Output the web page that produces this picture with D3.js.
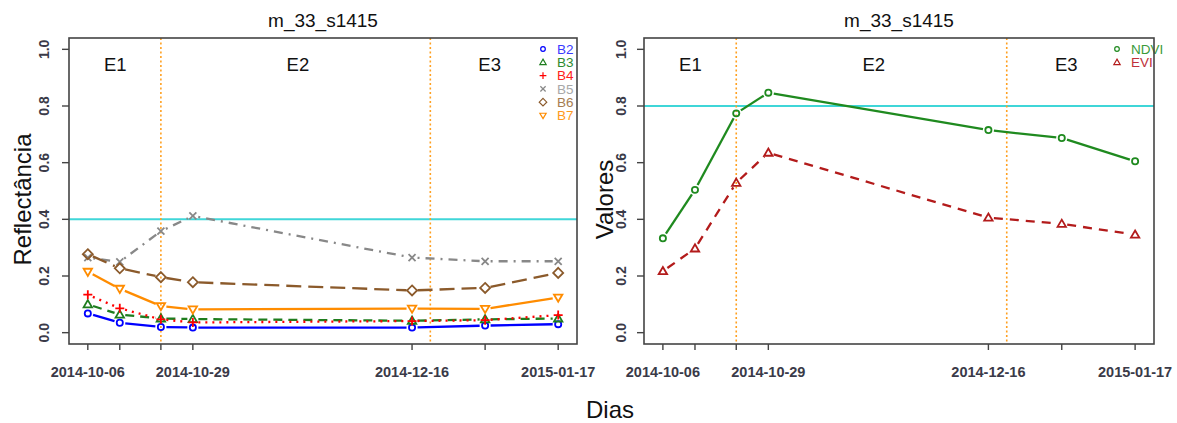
<!DOCTYPE html>
<html><head><meta charset="utf-8">
<script src="https://cdn.jsdelivr.net/npm/d3@7"></script>
<style>body{margin:0;background:#fff}svg{display:block;font-family:"Liberation Sans",Arial,sans-serif}</style>
</head><body><svg id="c" width="1177" height="423"></svg>
<script>
const dates = ["2014-10-06","2014-10-13","2014-10-22","2014-10-29","2014-12-16","2015-01-01","2015-01-17"];
const tickLabelDates = ["2014-10-06","2014-10-29","2014-12-16","2015-01-17"];
const yTicks = [0, 0.2, 0.4, 0.6, 0.8, 1.0];
const b2 = [0.068,0.035,0.020,0.018,0.018,0.025,0.030];
const b3 = [0.100,0.064,0.050,0.048,0.042,0.047,0.050];
const b4 = [0.134,0.086,0.047,0.036,0.041,0.044,0.062];
const b5 = [0.265,0.250,0.358,0.412,0.265,0.252,0.252];
const b6 = [0.277,0.227,0.196,0.178,0.149,0.158,0.211];
const b7 = [0.215,0.155,0.094,0.082,0.085,0.084,0.124];
const ndvi = [0.333,0.504,0.774,0.847,0.715,0.687,0.605];
const evi = [0.217,0.297,0.529,0.635,0.406,0.384,0.346];
const phaseLineDates = ["2014-10-22","2014-12-20"];
const phaseLabels = ["E1","E2","E3"];
const phaseLabelDates = ["2014-10-12","2014-11-21","2015-01-02"];
const title = "m_33_s1415";

const parse = d3.utcParse("%Y-%m-%d");
const svg = d3.select("#c");
svg.append("rect").attr("width",1177).attr("height",423).attr("fill","#fff");

function markerPath(shape){
  switch(shape){
    case "circle": return d3.symbol(d3.symbolCircle, 30)();
    case "triangle": return "M0,-4.2L4.2,3L-4.2,3Z";
    case "tridown": return "M0,4.2L4.2,-3L-4.2,-3Z";
    case "plus": return "M-4.5,0L4.5,0M0,-4.5L0,4.5";
    case "cross": return "M-3.5,-3.5L3.5,3.5M-3.5,3.5L3.5,-3.5";
    case "diamond": return "M0,-5L5,0L0,5L-5,0Z";
  }
}

function panel(opt){
  const {left,right,top,bottom,series,refLine,yLabel,legendX,yLabelX,tickLabelX} = opt;
  const d0 = parse(dates[0]), d1 = parse(dates[dates.length-1]);
  const span = d1 - d0;
  const x = d3.scaleUtc().domain([new Date(+d0 - 0.04*span), new Date(+d1 + 0.04*span)]).range([left,right]);
  const y = d3.scaleLinear().domain([-0.04,1.04]).range([bottom,top]);
  const g = svg.append("g");

  g.append("line").attr("x1",left).attr("x2",right).attr("y1",y(refLine)).attr("y2",y(refLine))
    .attr("stroke","#3fd6d8").attr("stroke-width",2);
  phaseLineDates.forEach(d=>{
    g.append("line").attr("x1",x(parse(d))).attr("x2",x(parse(d))).attr("y1",top).attr("y2",bottom)
      .attr("stroke","#ffa020").attr("stroke-width",1.6).attr("stroke-dasharray","2,2.5");
  });
  phaseLabels.forEach((t,i)=>{
    g.append("text").attr("x",x(parse(phaseLabelDates[i]))).attr("y",y(0.945)).attr("dy","0.35em")
      .attr("text-anchor","middle").attr("font-size",18.5).attr("fill","#111").text(t);
  });

  series.forEach(s=>{
    const pts = dates.map((d,i)=>[x(parse(d)), y(s.values[i])]);
    for(let i=0;i<pts.length-1;i++){
      const [xa,ya]=pts[i],[xb,yb]=pts[i+1];
      const L=Math.hypot(xb-xa,yb-ya), gap=5.5;
      if(L<=2*gap) continue;
      const ux=(xb-xa)/L, uy=(yb-ya)/L;
      g.append("line").attr("x1",xa+ux*gap).attr("y1",ya+uy*gap).attr("x2",xb-ux*gap).attr("y2",yb-uy*gap)
        .attr("stroke",s.color).attr("stroke-width",2.3).attr("stroke-dasharray",s.dash||null);
    }
    pts.forEach(p=>{
      g.append("path").attr("d",markerPath(s.shape)).attr("transform",`translate(${p[0]},${p[1]})`)
        .attr("fill","none").attr("stroke",s.color).attr("stroke-width",1.8);
    });
  });

  series.forEach((s,i)=>{
    const ly = top + 11 + i*13.3;
    g.append("path").attr("d",markerPath(s.shape)).attr("transform",`translate(${legendX},${ly}) scale(0.75)`)
      .attr("fill","none").attr("stroke",s.color).attr("stroke-width",1.6);
    g.append("text").attr("x",legendX+14).attr("y",ly).attr("dy","0.36em").attr("font-size",13.5)
      .attr("fill",s.textColor||s.color).text(s.name);
  });

  g.append("rect").attr("x",left).attr("y",top).attr("width",right-left).attr("height",bottom-top)
    .attr("fill","none").attr("stroke","#444").attr("stroke-width",1.6);

  dates.forEach(d=>{
    const xx = x(parse(d));
    g.append("line").attr("x1",xx).attr("x2",xx).attr("y1",bottom).attr("y2",bottom+6).attr("stroke","#444").attr("stroke-width",1.4);
  });
  tickLabelDates.forEach(d=>{
    g.append("text").attr("x",x(parse(d))).attr("y",372).attr("dy","0.35em").attr("text-anchor","middle")
      .attr("font-size",14.5).attr("font-weight","bold").attr("fill","#3a3a48").text(d);
  });
  yTicks.forEach(v=>{
    g.append("line").attr("x1",left-7).attr("x2",left).attr("y1",y(v)).attr("y2",y(v)).attr("stroke","#444").attr("stroke-width",1.4);
    g.append("text").attr("transform",`translate(${tickLabelX},${y(v)}) rotate(-90)`).attr("text-anchor","middle")
      .attr("dy","0.35em").attr("font-size",14).attr("font-weight","bold").attr("fill","#3a3a48").text(v.toFixed(1));
  });

  g.append("text").attr("x",(left+right)/2).attr("y",20).attr("dy","0.35em").attr("text-anchor","middle")
    .attr("font-size",19).attr("fill","#111").text(title);
  g.append("text").attr("transform",`translate(${yLabelX},${y(0.47)}) rotate(-90)`).attr("text-anchor","middle")
    .attr("dy","0.35em").attr("font-size",24).attr("fill","#111").text(yLabel);
}

panel({left:69,right:577,top:38,bottom:344,refLine:0.4,yLabel:"Reflectância",legendX:543,yLabelX:23,tickLabelX:44,
  series:[
    {name:"B2",values:b2,color:"#0000ff",shape:"circle",dash:null,textColor:"#3a3aff"},
    {name:"B3",values:b3,color:"#1e7d1e",shape:"triangle",dash:"9,6",textColor:"#2e8b2e"},
    {name:"B4",values:b4,color:"#ff0000",shape:"plus",dash:"2,5",textColor:"#ff2020"},
    {name:"B5",values:b5,color:"#888888",shape:"cross",dash:"2,6,9,6",textColor:"#a8a8a8"},
    {name:"B6",values:b6,color:"#8b5a2b",shape:"diamond",dash:"15,7",textColor:"#a67d50"},
    {name:"B7",values:b7,color:"#ff8c00",shape:"tridown",dash:null,textColor:"#ff9a20"}
  ]});
panel({left:644,right:1154,top:38,bottom:344,refLine:0.8,yLabel:"Valores",legendX:1117,yLabelX:605,tickLabelX:621,
  series:[
    {name:"NDVI",values:ndvi,color:"#1f8a1f",shape:"circle",dash:null,textColor:"#3a9a3a"},
    {name:"EVI",values:evi,color:"#b31b1b",shape:"triangle",dash:"9,7",textColor:"#c0303a"}
  ]});

svg.append("text").attr("x",610).attr("y",410).attr("dy","0.35em").attr("text-anchor","middle")
  .attr("font-size",24).attr("fill","#111").text("Dias");
</script></body></html>
